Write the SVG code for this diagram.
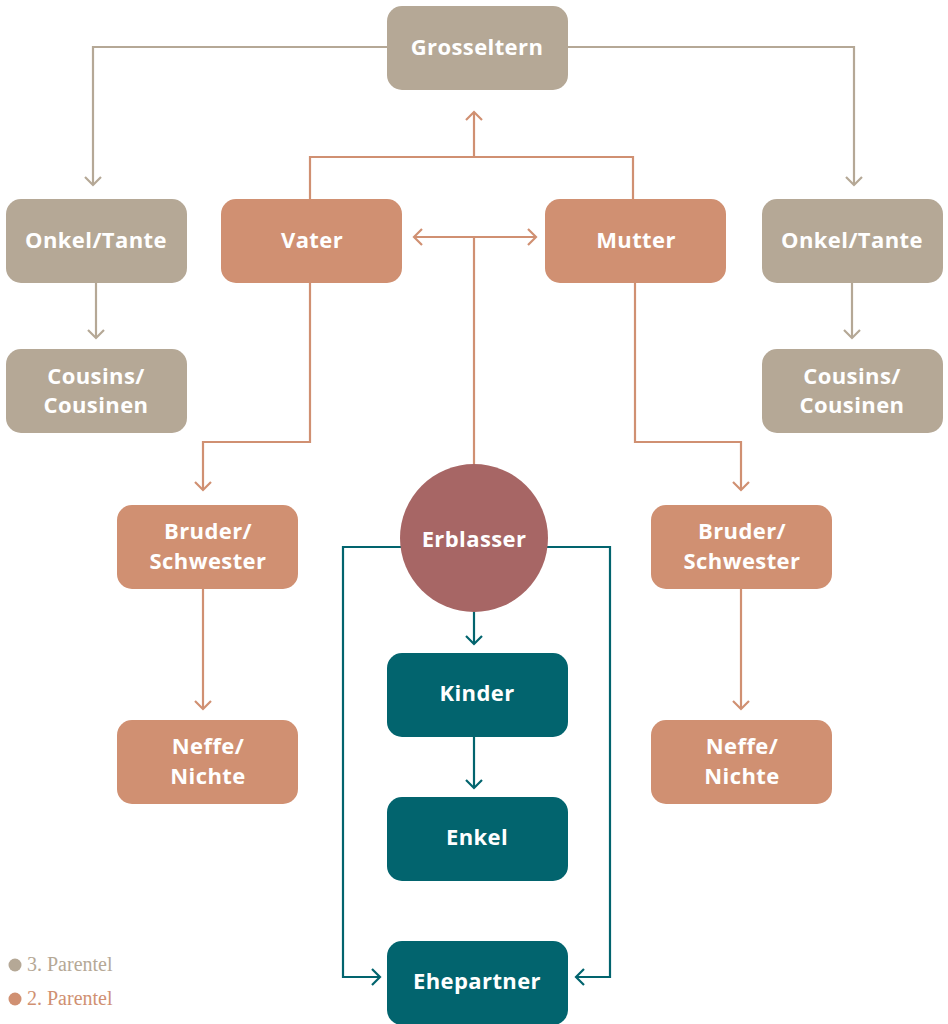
<svg xmlns="http://www.w3.org/2000/svg" width="948" height="1024" viewBox="0 0 948 1024">
<defs>
<style>
.n text{font-family:"Open Sans",Lato,sans-serif;font-weight:700;font-size:22px;letter-spacing:0.4px;fill:#fff;text-anchor:middle}
.b{fill:#b5a896}.o{fill:#d09072}.t{fill:#02646e}
.cb{stroke:#b5a896}.co{stroke:#d09072}.ct{stroke:#02646e}
#connectors path{fill:none;stroke-width:2.2}
.leg{font-family:"Liberation Serif",serif;font-size:20px}
</style>
<marker id="ab" viewBox="0 0 20 20" refX="10" refY="10" markerWidth="20" markerHeight="20" markerUnits="userSpaceOnUse" orient="auto"><path d="M2,2 L10,10 L2,18" fill="none" stroke="#b5a896" stroke-width="2.2"/></marker>
<marker id="ao" viewBox="0 0 20 20" refX="10" refY="10" markerWidth="20" markerHeight="20" markerUnits="userSpaceOnUse" orient="auto-start-reverse"><path d="M2,2 L10,10 L2,18" fill="none" stroke="#d09072" stroke-width="2.2"/></marker>
<marker id="at" viewBox="0 0 20 20" refX="10" refY="10" markerWidth="20" markerHeight="20" markerUnits="userSpaceOnUse" orient="auto"><path d="M2,2 L10,10 L2,18" fill="none" stroke="#02646e" stroke-width="2.2"/></marker>
</defs>
<rect width="948" height="1024" fill="#fff"/>
<g id="connectors">
<path class="cb" d="M387,47 H93 V185" marker-end="url(#ab)"/>
<path class="cb" d="M567,47 H854 V185" marker-end="url(#ab)"/>
<path class="cb" d="M96,283 V338" marker-end="url(#ab)"/>
<path class="cb" d="M852,283 V338" marker-end="url(#ab)"/>
<path class="co" d="M310,199 V157 H633 V199"/>
<path class="co" d="M474,157 V112" marker-end="url(#ao)"/>
<path class="co" d="M414,237 H536" marker-start="url(#ao)" marker-end="url(#ao)"/>
<path class="co" d="M474,237 V465"/>
<path class="co" d="M310,283 V442 H203 V490" marker-end="url(#ao)"/>
<path class="co" d="M635,283 V442 H741 V490" marker-end="url(#ao)"/>
<path class="co" d="M203,588 V709" marker-end="url(#ao)"/>
<path class="co" d="M741,588 V709" marker-end="url(#ao)"/>
<path class="ct" d="M474,612 V644" marker-end="url(#at)"/>
<path class="ct" d="M474,737 V788" marker-end="url(#at)"/>
<path class="ct" d="M402,547 H343 V977 H380" marker-end="url(#at)"/>
<path class="ct" d="M547,547 H610 V977 H576" marker-end="url(#at)"/>
</g>
<g id="grosseltern" class="n"><rect class="b" x="387" y="6" width="181" height="84" rx="15"/><text x="477" y="55">Grosseltern</text></g>
<g id="onkel-l" class="n"><rect class="b" x="6" y="199" width="181" height="84" rx="15"/><text x="96" y="248">Onkel/Tante</text></g>
<g id="onkel-r" class="n"><rect class="b" x="762" y="199" width="181" height="84" rx="15"/><text x="852" y="248">Onkel/Tante</text></g>
<g id="cousins-l" class="n"><rect class="b" x="6" y="349" width="181" height="84" rx="15"/><text x="96" y="384">Cousins/</text><text x="96" y="413">Cousinen</text></g>
<g id="cousins-r" class="n"><rect class="b" x="762" y="349" width="181" height="84" rx="15"/><text x="852" y="384">Cousins/</text><text x="852" y="413">Cousinen</text></g>
<g id="vater" class="n"><rect class="o" x="221" y="199" width="181" height="84" rx="15"/><text x="312" y="248">Vater</text></g>
<g id="mutter" class="n"><rect class="o" x="545" y="199" width="181" height="84" rx="15"/><text x="636" y="248">Mutter</text></g>
<g id="bruder-l" class="n"><rect class="o" x="117" y="505" width="181" height="84" rx="15"/><text x="208" y="539">Bruder/</text><text x="208" y="569">Schwester</text></g>
<g id="bruder-r" class="n"><rect class="o" x="651" y="505" width="181" height="84" rx="15"/><text x="742" y="539">Bruder/</text><text x="742" y="569">Schwester</text></g>
<g id="neffe-l" class="n"><rect class="o" x="117" y="720" width="181" height="84" rx="15"/><text x="208" y="754">Neffe/</text><text x="208" y="784">Nichte</text></g>
<g id="neffe-r" class="n"><rect class="o" x="651" y="720" width="181" height="84" rx="15"/><text x="742" y="754">Neffe/</text><text x="742" y="784">Nichte</text></g>
<g id="erblasser" class="n"><circle cx="474" cy="538" r="74" fill="#a76665"/><text x="474" y="547">Erblasser</text></g>
<g id="kinder" class="n"><rect class="t" x="387" y="653" width="181" height="84" rx="15"/><text x="477" y="701">Kinder</text></g>
<g id="enkel" class="n"><rect class="t" x="387" y="797" width="181" height="84" rx="15"/><text x="477" y="845">Enkel</text></g>
<g id="ehepartner" class="n"><rect class="t" x="387" y="941" width="181" height="84" rx="15"/><text x="477" y="989">Ehepartner</text></g>
<g id="legend">
<circle cx="15" cy="965" r="6.5" fill="#b5a896"/><text class="leg" x="27" y="971" fill="#b5a896">3. Parentel</text>
<circle cx="15" cy="999" r="6.5" fill="#d09072"/><text class="leg" x="27" y="1005" fill="#d09072">2. Parentel</text>
</g>
</svg>
